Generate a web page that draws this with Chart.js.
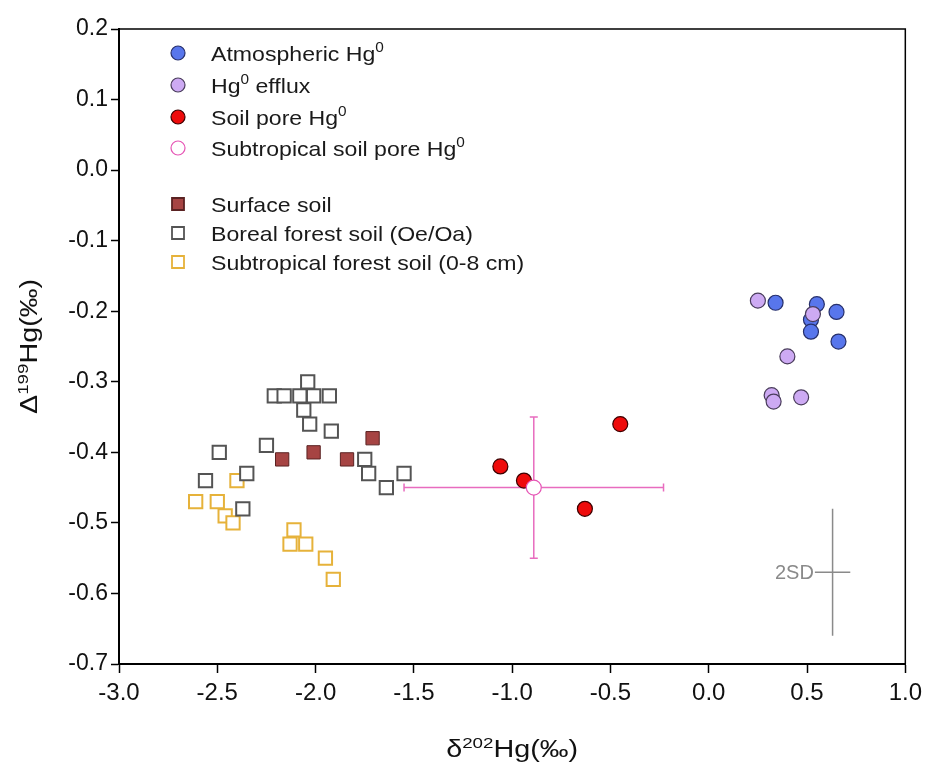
<!DOCTYPE html>
<html>
<head>
<meta charset="utf-8">
<title>Hg isotopes</title>
<script src="https://cdn.jsdelivr.net/npm/chart.js@4.4.1/dist/chart.umd.min.js"></script>
<style>
  html, body { margin: 0; padding: 0; background: #fff; }
  #chart { display: block; }
</style>
</head>
<body>
<canvas id="chart" width="928" height="764"></canvas>
<script>
// values (x = d202Hg, y = D199Hg, permil)
const atmX = [0.34, 0.55, 0.65, 0.52, 0.52, 0.66];
const atmY = [-0.188, -0.190, -0.201, -0.212, -0.229, -0.243];

const effluxX = [0.25, 0.53, 0.40, 0.32, 0.33, 0.47];
const effluxY = [-0.185, -0.204, -0.264, -0.319, -0.328, -0.322];

const poreX = [-1.06, -0.94, -0.63, -0.45];
const poreY = [-0.42, -0.44, -0.48, -0.36];

const subPoreX = [-0.89];
const subPoreY = [-0.45];
const subPoreXErr = [0.66];
const subPoreYErr = [0.10];

const surfaceX = [-2.17, -2.01, -1.84, -1.71];
const surfaceY = [-0.41, -0.40, -0.41, -0.38];

const borealX = [-2.04, -2.21, -2.16, -2.08, -2.01, -1.93, -2.06, -2.03, -1.92, -2.25, -2.49, -1.75, -1.73, -1.55, -1.64, -2.35, -2.56, -2.37];
const borealY = [-0.30, -0.32, -0.32, -0.32, -0.32, -0.32, -0.34, -0.36, -0.37, -0.39, -0.40, -0.41, -0.43, -0.43, -0.45, -0.43, -0.44, -0.48];

const subSoilX = [-2.40, -2.61, -2.50, -2.46, -2.42, -2.11, -2.13, -2.05, -1.95, -1.91];
const subSoilY = [-0.44, -0.47, -0.47, -0.49, -0.50, -0.51, -0.53, -0.53, -0.55, -0.58];

// 2SD reference cross
const sdX = [0.63];
const sdY = [-0.57];
const sdXErr = [0.09];
const sdYErr = [0.09];

const xTickValues = [-3.0, -2.5, -2.0, -1.5, -1.0, -0.5, 0.0, 0.5, 1.0];
const yTickValues = [0.2, 0.1, 0.0, -0.1, -0.2, -0.3, -0.4, -0.5, -0.6, -0.7];

const xTitle = 'δ²⁰²Hg(‰)';
const yTitle = 'Δ¹⁹⁹Hg(‰)';

const FONT = '"Liberation Sans", Arial, sans-serif';
const pts = (xs, ys) => xs.map((x, i) => ({ x: x, y: ys[i] }));

// draw text where unicode superscript digits are drawn as raised small digits
const SUP = '⁰¹²³⁴⁵⁶⁷⁸⁹';
function drawRich(ctx, text, x, y, size, align, stretch) {
  const runs = [];
  for (const ch of text) {
    const k = SUP.indexOf(ch);
    const sup = k >= 0;
    const c = sup ? String(k) : ch;
    if (runs.length && runs[runs.length - 1].sup === sup) runs[runs.length - 1].t += c;
    else runs.push({ t: c, sup: sup });
  }
  const supSize = Math.round(size * 0.65);
  let total = 0;
  runs.forEach(r => {
    ctx.font = (r.sup ? supSize : size) + 'px ' + FONT;
    r.w = ctx.measureText(r.t).width;
    total += r.w;
  });
  ctx.save();
  ctx.translate(x, y);
  ctx.scale(stretch || 1, 1);
  let cx = align === 'center' ? -total / 2 : 0;
  ctx.textAlign = 'left';
  ctx.textBaseline = 'alphabetic';
  runs.forEach(r => {
    ctx.font = (r.sup ? supSize : size) + 'px ' + FONT;
    ctx.fillText(r.t, cx, r.sup ? -size * 0.4 : 0);
    cx += r.w;
  });
  ctx.restore();
}

// error bars behind the points
const errorBars = {
  id: 'errorBars',
  beforeDatasetsDraw(chart) {
    const { ctx, scales: { x, y } } = chart;
    ctx.save();
    ctx.strokeStyle = '#E86CBF';
    ctx.lineWidth = 1.5;
    subPoreX.forEach((v, i) => {
      const px = x.getPixelForValue(v);
      const py = y.getPixelForValue(subPoreY[i]);
      const x0 = x.getPixelForValue(v - subPoreXErr[i]);
      const x1 = x.getPixelForValue(v + subPoreXErr[i]);
      const y0 = y.getPixelForValue(subPoreY[i] + subPoreYErr[i]);
      const y1 = y.getPixelForValue(subPoreY[i] - subPoreYErr[i]);
      ctx.beginPath();
      ctx.moveTo(x0, py); ctx.lineTo(x1, py);
      ctx.moveTo(px, y0); ctx.lineTo(px, y1);
      ctx.moveTo(x0, py - 4); ctx.lineTo(x0, py + 4);
      ctx.moveTo(x1, py - 4); ctx.lineTo(x1, py + 4);
      ctx.moveTo(px - 4, y0); ctx.lineTo(px + 4, y0);
      ctx.moveTo(px - 4, y1); ctx.lineTo(px + 4, y1);
      ctx.stroke();
    });
    // 2SD cross
    ctx.strokeStyle = '#8a8a8a';
    const cx = x.getPixelForValue(sdX[0]);
    const cy = y.getPixelForValue(sdY[0]);
    ctx.beginPath();
    ctx.moveTo(x.getPixelForValue(sdX[0] - sdXErr[0]), cy);
    ctx.lineTo(x.getPixelForValue(sdX[0] + sdXErr[0]), cy);
    ctx.moveTo(cx, y.getPixelForValue(sdY[0] + sdYErr[0]));
    ctx.lineTo(cx, y.getPixelForValue(sdY[0] - sdYErr[0]));
    ctx.stroke();
    ctx.fillStyle = '#8a8a8a';
    ctx.font = '20px ' + FONT;
    ctx.textAlign = 'right';
    ctx.textBaseline = 'alphabetic';
    ctx.fillText('2SD', x.getPixelForValue(sdX[0] - sdXErr[0]) - 1, cy + 7);
    ctx.restore();
  }
};

// frame, legend and axis titles
const decorations = {
  id: 'decorations',
  afterDraw(chart) {
    const { ctx, chartArea: a } = chart;
    ctx.save();
    ctx.strokeStyle = '#000';
    ctx.lineWidth = 1.5;
    ctx.beginPath();
    ctx.moveTo(a.left, a.top); ctx.lineTo(a.right, a.top); ctx.lineTo(a.right, a.bottom);
    ctx.stroke();

    // legend, with a gap after the gas-phase group
    const rows = [53, 85, 117, 148, 204, 233, 262];
    const mx = 178, tx = 211;
    chart.data.datasets.forEach((ds, i) => {
      const ry = rows[i];
      ctx.fillStyle = ds.backgroundColor;
      ctx.strokeStyle = ds.borderColor;
      ctx.lineWidth = ds.pointStyle === 'rect' ? 1.8 : 1.2;
      ctx.beginPath();
      if (ds.pointStyle === 'rect') ctx.rect(mx - 6, ry - 6, 12, 12);
      else ctx.arc(mx, ry, 7, 0, Math.PI * 2);
      ctx.fill();
      ctx.stroke();
      ctx.fillStyle = '#1a1a1a';
      drawRich(ctx, ds.label, tx, ry + 7.5, 21, 'left', 1.1);
    });

    ctx.fillStyle = '#111';
    drawRich(ctx, xTitle, (a.left + a.right) / 2, 757, 23, 'center', 1.25);
    ctx.save();
    ctx.translate(37, (a.top + a.bottom) / 2);
    ctx.rotate(-Math.PI / 2);
    drawRich(ctx, yTitle, 0, 0, 23, 'center', 1.25);
    ctx.restore();
    ctx.restore();
  }
};

const circle = (label, xs, ys, fill, border, order) => ({
  label: label, data: pts(xs, ys), order: order,
  pointStyle: 'circle', pointRadius: 7.5, pointBorderWidth: 1.2,
  backgroundColor: fill, borderColor: border,
  pointBackgroundColor: fill, pointBorderColor: border
});
const square = (label, xs, ys, fill, border, width, order) => ({
  label: label, data: pts(xs, ys), order: order,
  pointStyle: 'rect', pointRadius: 9.4, pointBorderWidth: width,
  backgroundColor: fill, borderColor: border,
  pointBackgroundColor: fill, pointBorderColor: border
});

new Chart(document.getElementById('chart'), {
  type: 'scatter',
  data: {
    datasets: [
      circle('Atmospheric Hg⁰', atmX, atmY, '#5876EC', '#27306c', 4),
      circle('Hg⁰ efflux', effluxX, effluxY, '#CDAAF3', '#4a3d5c', 3),
      circle('Soil pore Hg⁰', poreX, poreY, '#EE0B0B', '#3b0000', 2),
      circle('Subtropical soil pore Hg⁰', subPoreX, subPoreY, '#ffffff', '#E655B5', 1),
      square('Surface soil', surfaceX, surfaceY, '#A64443', '#5a2222', 1, 5),
      square('Boreal forest soil (Oe/Oa)', borealX, borealY, '#ffffff', '#545454', 2, 6),
      square('Subtropical forest soil (0-8 cm)', subSoilX, subSoilY, '#ffffff', '#E6B23A', 2, 7)
    ]
  },
  options: {
    responsive: false,
    animation: false,
    layout: { padding: { top: 29, right: 17, left: 0, bottom: 0 } },
    plugins: { legend: { display: false }, tooltip: { enabled: false } },
    scales: {
      x: {
        type: 'linear', min: -3.0, max: 1.0,
        afterBuildTicks: (scale) => { scale.ticks = xTickValues.map(v => ({ value: v })); },
        afterFit: (scale) => { scale.height = 100; },
        ticks: { callback: v => v.toFixed(1), color: '#111', padding: 6, maxRotation: 0, font: { family: FONT, size: 24 } },
        grid: { drawOnChartArea: false, drawTicks: true, tickLength: 9, tickColor: '#000', tickWidth: 1.5 },
        border: { display: true, color: '#000', width: 2 }
      },
      y: {
        type: 'linear', min: -0.7, max: 0.2,
        afterBuildTicks: (scale) => { scale.ticks = yTickValues.map(v => ({ value: v })); },
        afterFit: (scale) => { scale.width = 119; },
        ticks: { callback: v => v.toFixed(1), color: '#111', padding: 3, font: { family: FONT, size: 23 } },
        grid: { drawOnChartArea: false, drawTicks: true, tickLength: 8, tickColor: '#000', tickWidth: 1.5 },
        border: { display: true, color: '#000', width: 2 }
      }
    }
  },
  plugins: [errorBars, decorations]
});
</script>
</body>
</html>
